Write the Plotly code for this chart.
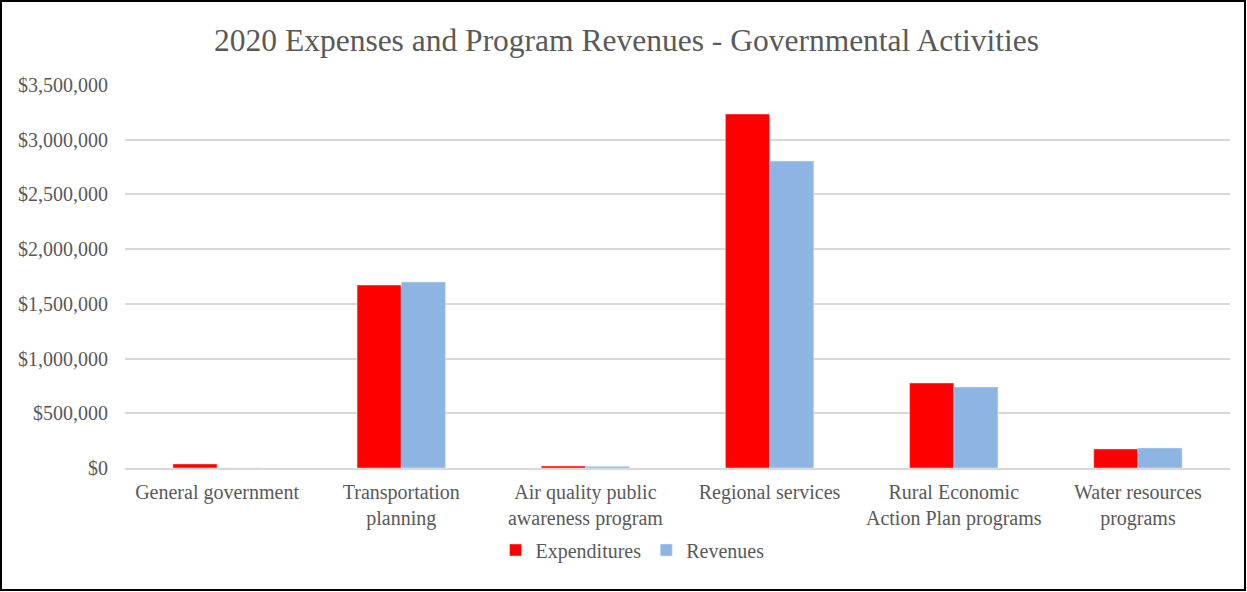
import plotly.graph_objects as go

categories = ["General government", "Transportation<br>planning", "Air quality public<br>awareness program",
              "Regional services", "Rural Economic<br>Action Plan programs", "Water resources<br>programs"]
expenditures = [37000, 1672000, 18000, 3235000, 777000, 174000]
revenues = [0, 1700000, 15000, 2805000, 740000, 183000]
y_ticks = [0, 500000, 1000000, 1500000, 2000000, 2500000, 3000000, 3500000]

FONT = "'Liberation Serif', 'Times New Roman', serif"
GREY = "#595959"

fig = go.Figure()
fig.add_trace(go.Bar(name="Expenditures", x=categories, y=expenditures, marker_color="#FF0000"))
fig.add_trace(go.Bar(name="Revenues", x=categories, y=revenues, marker_color="#8EB4E3"))

L, R, T, B = 125, 17, 85, 124
W, H = 1247, 592
pw, ph = W - L - R, H - T - B

def px(x):
    return (x - L) / pw

def py(y):
    return (H - B - y) / ph

fig.update_layout(
    width=W, height=H,
    margin=dict(l=L, r=R, t=T, b=B),
    paper_bgcolor="white", plot_bgcolor="white",
    barmode="group", bargap=0.52, bargroupgap=0,
    font=dict(family=FONT, color=GREY, size=20),
    title=dict(text="2020 Expenses and Program Revenues - Governmental Activities",
               x=0.5 * (px(213) + px(1040)), xanchor="center", y=1 - 40 / H, yanchor="middle",
               xref="paper",
               font=dict(family=FONT, size=31.5, color=GREY)),
    legend=dict(orientation="h", x=0.5 * (px(505) + px(760)), xanchor="center",
                y=py(550), yanchor="middle", font=dict(family=FONT, size=20, color=GREY),
                itemwidth=30, traceorder="normal"),
    xaxis=dict(showgrid=False, showline=True, linecolor="#D9D9D9", linewidth=2,
               ticks="", tickfont=dict(family=FONT, size=20, color=GREY), ticklabelstandoff=5),
    yaxis=dict(range=[0, 3500000], tickvals=y_ticks, tickformat="$,.0f",
               showgrid=True, gridcolor="#D9D9D9", gridwidth=1.5, zeroline=False,
               ticks="", tickfont=dict(family=FONT, size=20, color=GREY), ticklabelstandoff=16),
    shapes=[dict(type="rect", xref="paper", yref="paper",
                 x0=px(1), x1=px(1245), y0=py(590), y1=py(1),
                 line=dict(color="black", width=2), fillcolor="rgba(0,0,0,0)")],
)

fig.write_html("out.html")
